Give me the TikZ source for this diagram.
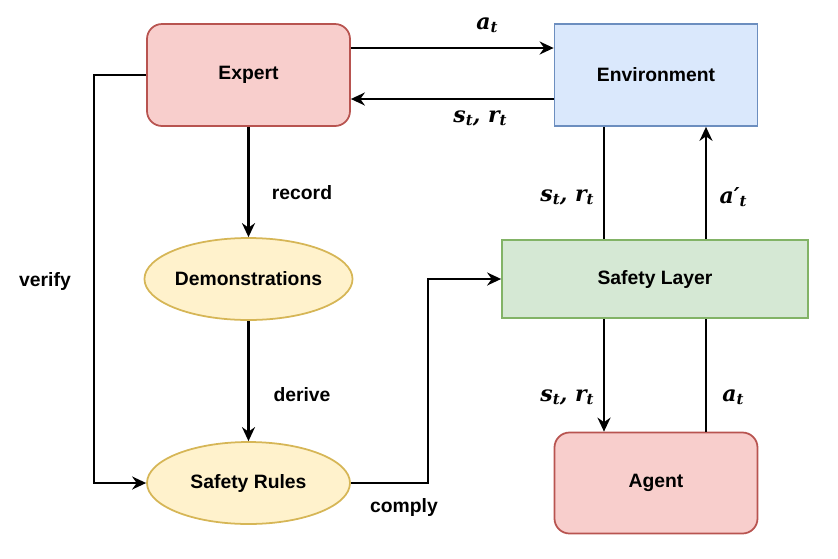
\documentclass[tikz,border=0pt]{standalone}
\usepackage{fontspec}
\setmainfont{Liberation Sans}
\newfontfamily\symfont{DejaVu Serif}
\usepackage{tikz}
\definecolor{redfill}{HTML}{f8cecc}
\definecolor{redline}{HTML}{b85450}
\definecolor{bluefill}{HTML}{dae8fc}
\definecolor{blueline}{HTML}{6c8ebf}
\definecolor{greenfill}{HTML}{d5e8d4}
\definecolor{greenline}{HTML}{82b366}
\definecolor{yellowfill}{HTML}{fff2cc}
\definecolor{yellowline}{HTML}{d6b656}
\usetikzlibrary{shapes, arrows.meta, positioning, calc}
% bold italic symbol with subscript
\newcommand{\sym}[2]{#1\raisebox{-0.3ex}{\fontsize{8.5}{9}\selectfont #2}}

\begin{document}
\begin{tikzpicture}[
    box/.style={draw, line width=1pt, minimum width=4.06cm, minimum height=2.04cm, font=\fontsize{11}{13}\selectfont\bfseries},
    blob/.style={draw, ellipse, inner sep=0pt, line width=1pt, fill=yellowfill, draw=yellowline, minimum width=4.06cm, minimum height=1.64cm, font=\fontsize{11}{13}\selectfont\bfseries},
    lbl/.style={font=\fontsize{11}{13}\selectfont\bfseries},
    mlbl/.style={font=\fontsize{12.5}{15}\selectfont\symfont\bfseries\itshape},
    arrow/.style={-{Stealth[length=2.8mm, width=2.6mm]}, line width=1.2pt},
    link/.style={line width=1.2pt}
]
    \useasboundingbox (0,0) rectangle (16.76,-11.16);

    % Expert and Environment
    \node[box, rounded corners=0.3cm, fill=redfill, draw=redline] (expert) at (4.97,-1.5) {Expert};
    \node[box, fill=bluefill, draw=blueline] (env) at (13.12,-1.5) {Environment};

    % Demonstrations and rules
    \node[blob] (demo) at (4.97,-5.58) {Demonstrations};
    \node[blob] (rules) at (4.97,-9.66) {Safety Rules};

    % Safety layer and agent
    \node[box, fill=greenfill, draw=greenline, minimum width=6.12cm, minimum height=1.56cm] (layer) at (13.1,-5.58) {Safety Layer};
    \node[box, rounded corners=0.3cm, fill=redfill, draw=redline, minimum height=2.02cm] (agent) at (13.12,-9.66) {Agent};

    % Expert <-> Environment
    \draw[arrow] ([yshift=0.54cm]expert.east) -- ([yshift=0.54cm]env.west);
    \draw[arrow] ([yshift=-0.48cm]env.west) -- ([yshift=-0.48cm]expert.east);
    \node[mlbl] (at1) at (9.74,-0.5) {\sym{a}{t}};
    \node[mlbl] (sr1) at (9.6,-2.36) {\sym{s}{t}, \sym{r}{t}};

    % Expert -> Demonstrations -> Safety Rules
    \draw[arrow] (expert) -- (demo);
    \draw[arrow] (demo) -- (rules);
    \node[lbl] (record) at (6.04,-3.86) {record};
    \node[lbl] (derive) at (6.04,-7.9) {derive};

    % verify
    \draw[arrow] (expert.west) -- ++(-1.04,0) |- (rules.west);
    \node[lbl] (verify) at (0.9,-5.62) {verify};

    % comply
    \draw[arrow] (rules.east) -- ++(1.54,0) |- (layer.west);
    \node[lbl] (comply) at (8.08,-10.14) {comply};

    % Environment <-> Safety Layer
    \draw[link] ([xshift=-1.04cm]env.south) -- ([xshift=-1.04cm]env.south |- layer.north);
    \draw[arrow] ([xshift=1.0cm]env.south |- layer.north) -- ([xshift=1.0cm]env.south);
    \node[mlbl] (sr2) at (11.34,-3.94) {\sym{s}{t}, \sym{r}{t}};
    \node[mlbl] (at2) at (14.66,-3.94) {\sym{a′}{t}};

    % Safety Layer <-> Agent
    \draw[arrow] ([xshift=-1.04cm]agent.north |- layer.south) -- ([xshift=-1.04cm]agent.north);
    \draw[link] ([xshift=1.0cm]agent.north) -- ([xshift=1.0cm]agent.north |- layer.south);
    \node[mlbl] (sr3) at (11.34,-7.94) {\sym{s}{t}, \sym{r}{t}};
    \node[mlbl] (at3) at (14.66,-7.94) {\sym{a}{t}};
\end{tikzpicture}
\end{document}
